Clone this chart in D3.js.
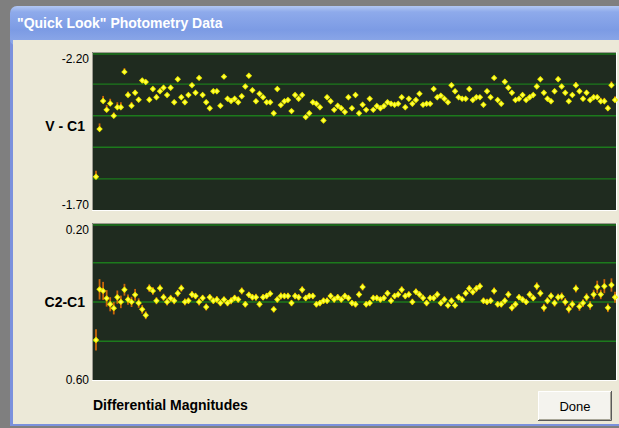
<!DOCTYPE html>
<html>
<head>
<meta charset="utf-8">
<script src="https://cdn.jsdelivr.net/npm/d3@7/dist/d3.min.js"></script>
<style>
  body { margin: 0; background: #7f7f7f; overflow: hidden; }
  text { font-family: "Liberation Sans", Arial, sans-serif; }
</style>
</head>
<body>
<div id="quicklook"></div>
<script>
var vMinusC1 = [
  -1.805, -1.956, -2.045, -2.017, -2.037, -1.998, -2.025, -2.025, -2.137, -2.064,
  -2.030, -2.071, -2.049, -2.110, -2.105, -2.049, -2.083, -2.057, -2.076, -2.087,
  -2.064, -2.087, -2.041, -2.114, -2.057, -2.041, -2.064, -2.095, -2.071, -2.118,
  -2.064, -2.041, -2.022, -2.076, -2.076, -2.030, -2.122, -2.052, -2.045, -2.052,
  -2.041, -2.060, -2.091, -2.125, -2.079, -2.044, -2.068, -2.057, -2.041, -2.041,
  -2.006, -2.083, -2.032, -2.044, -2.048, -2.013, -2.064, -2.052, -2.064, -1.994,
  -2.006, -2.041, -2.036, -2.025, -1.983, -2.057, -2.044, -2.017, -2.030, -2.022,
  -2.010, -2.057, -2.022, -2.064, -2.006, -2.033, -2.017, -2.052, -2.017, -2.029,
  -2.022, -2.029, -2.041, -2.036, -2.033, -2.036, -2.057, -2.025, -2.052, -2.036,
  -2.048, -2.068, -2.033, -2.036, -2.036, -2.083, -2.057, -2.062, -2.052, -2.041,
  -2.095, -2.076, -2.057, -2.052, -2.052, -2.083, -2.048, -2.057, -2.057, -2.033,
  -2.076, -2.057, -2.118, -2.048, -2.036, -2.106, -2.087, -2.071, -2.048, -2.052,
  -2.064, -2.048, -2.057, -2.064, -2.091, -2.114, -2.071, -2.052, -2.044, -2.076,
  -2.114, -2.091, -2.071, -2.044, -2.064, -2.095, -2.076, -2.052, -2.071, -2.048,
  -2.057, -2.057, -2.044, -2.044, -2.022, -2.095, -2.048
];
var vErr = [
  0.019, 0.018, 0.016, 0.015, 0.015, 0.011, 0.016, 0.016, 0.012, 0.011,
  0.012, 0.009, 0.008, 0.007, 0.007, 0.009, 0.007, 0.009, 0.009, 0.008,
  0.006, 0.007, 0.006, 0.006, 0.007, 0.006, 0.006, 0.005, 0.006, 0.006,
  0.006, 0.005, 0.006, 0.006, 0.005, 0.006, 0.006, 0.005, 0.006, 0.005,
  0.006, 0.005, 0.006, 0.005, 0.006, 0.005, 0.005, 0.006, 0.005, 0.005,
  0.005, 0.006, 0.005, 0.005, 0.005, 0.005, 0.006, 0.005, 0.005, 0.005,
  0.005, 0.005, 0.005, 0.005, 0.006, 0.005, 0.005, 0.005, 0.005, 0.005,
  0.005, 0.005, 0.005, 0.005, 0.005, 0.005, 0.005, 0.005, 0.005, 0.005,
  0.005, 0.005, 0.005, 0.005, 0.005, 0.005, 0.005, 0.005, 0.005, 0.005,
  0.005, 0.005, 0.005, 0.005, 0.005, 0.006, 0.005, 0.005, 0.005, 0.005,
  0.006, 0.005, 0.005, 0.005, 0.005, 0.006, 0.005, 0.005, 0.005, 0.005,
  0.006, 0.005, 0.006, 0.005, 0.005, 0.006, 0.006, 0.006, 0.005, 0.006,
  0.006, 0.006, 0.006, 0.006, 0.009, 0.007, 0.006, 0.006, 0.006, 0.007,
  0.008, 0.007, 0.006, 0.006, 0.007, 0.010, 0.007, 0.007, 0.007, 0.007,
  0.008, 0.008, 0.011, 0.011, 0.009, 0.012, 0.012
];
var c2MinusC1 = [
  0.498, 0.369, 0.373, 0.392, 0.407, 0.417, 0.389, 0.401, 0.370, 0.395,
  0.401, 0.383, 0.404, 0.420, 0.435, 0.366, 0.373, 0.398, 0.366, 0.389,
  0.401, 0.392, 0.398, 0.379, 0.366, 0.401, 0.398, 0.382, 0.386, 0.401,
  0.391, 0.414, 0.389, 0.398, 0.395, 0.404, 0.395, 0.404, 0.398, 0.391,
  0.395, 0.373, 0.407, 0.383, 0.389, 0.389, 0.407, 0.389, 0.386, 0.380,
  0.420, 0.395, 0.386, 0.386, 0.386, 0.404, 0.386, 0.389, 0.370, 0.391,
  0.386, 0.386, 0.407, 0.404, 0.398, 0.398, 0.386, 0.395, 0.389, 0.395,
  0.386, 0.391, 0.404, 0.407, 0.382, 0.363, 0.407, 0.404, 0.391, 0.391,
  0.395, 0.391, 0.379, 0.398, 0.386, 0.382, 0.370, 0.386, 0.382, 0.401,
  0.375, 0.382, 0.391, 0.404, 0.391, 0.391, 0.382, 0.404, 0.395, 0.410,
  0.398, 0.410, 0.389, 0.395, 0.379, 0.367, 0.376, 0.367, 0.361, 0.398,
  0.401, 0.398, 0.373, 0.407, 0.407, 0.398, 0.382, 0.416, 0.407, 0.389,
  0.395, 0.401, 0.382, 0.391, 0.361, 0.379, 0.416, 0.398, 0.386, 0.404,
  0.389, 0.387, 0.401, 0.419, 0.407, 0.367, 0.413, 0.404, 0.389, 0.410,
  0.382, 0.363, 0.382, 0.361, 0.416, 0.358, 0.389
];
var cErr = [
  0.027, 0.026, 0.023, 0.021, 0.018, 0.016, 0.017, 0.016, 0.015, 0.013,
  0.013, 0.015, 0.012, 0.011, 0.010, 0.010, 0.010, 0.009, 0.009, 0.009,
  0.009, 0.009, 0.009, 0.009, 0.009, 0.009, 0.008, 0.009, 0.008, 0.009,
  0.008, 0.009, 0.008, 0.008, 0.009, 0.008, 0.008, 0.008, 0.009, 0.008,
  0.008, 0.009, 0.008, 0.008, 0.008, 0.009, 0.008, 0.008, 0.008, 0.008,
  0.008, 0.008, 0.009, 0.008, 0.008, 0.008, 0.008, 0.008, 0.009, 0.008,
  0.008, 0.008, 0.008, 0.008, 0.008, 0.008, 0.008, 0.008, 0.008, 0.008,
  0.008, 0.008, 0.008, 0.008, 0.008, 0.009, 0.008, 0.008, 0.008, 0.008,
  0.008, 0.008, 0.008, 0.008, 0.008, 0.008, 0.009, 0.008, 0.008, 0.008,
  0.008, 0.008, 0.008, 0.008, 0.008, 0.008, 0.008, 0.008, 0.008, 0.008,
  0.008, 0.008, 0.008, 0.008, 0.008, 0.009, 0.008, 0.009, 0.009, 0.008,
  0.008, 0.008, 0.009, 0.008, 0.008, 0.008, 0.009, 0.009, 0.008, 0.008,
  0.008, 0.008, 0.009, 0.008, 0.010, 0.009, 0.010, 0.009, 0.009, 0.009,
  0.009, 0.010, 0.010, 0.011, 0.010, 0.010, 0.011, 0.010, 0.010, 0.011,
  0.012, 0.016, 0.012, 0.018, 0.011, 0.017, 0.014
];
var vTicks = [-2.20, -1.70];
var vGrid = [-2.2, -2.1, -2.0, -1.9, -1.8];
var cTicks = [0.20, 0.60];
var cGrid = [0.2, 0.3, 0.4, 0.5];

var W = 619, H = 428;
var svg = d3.select("#quicklook").append("svg")
    .attr("width", W)
    .attr("height", H);

// window chrome
var grad = svg.append("defs").append("linearGradient")
    .attr("id", "title").attr("x1", 0).attr("y1", 0).attr("x2", 0).attr("y2", 1);
grad.append("stop").attr("offset", 0).attr("stop-color", "#b2c7f3");
grad.append("stop").attr("offset", 0.15).attr("stop-color", "#8eaaeb");
grad.append("stop").attr("offset", 0.6).attr("stop-color", "#7c9be4");
grad.append("stop").attr("offset", 1).attr("stop-color", "#90abe9");

svg.append("rect").attr("width", W).attr("height", H).attr("fill", "#7f7f7f");
svg.append("rect").attr("x", 10).attr("y", 20).attr("width", 640).attr("height", 406)
    .attr("fill", "#7b91dd");
svg.append("rect").attr("x", 10).attr("y", 6).attr("width", 640).attr("height", 40)
    .attr("rx", 7).attr("fill", "url(#title)");
svg.append("text").attr("x", 17).attr("y", 27.5)
    .attr("fill", "#fff").attr("font-size", 14).attr("font-weight", "bold")
    .text("\"Quick Look\" Photometry Data");
svg.append("rect").attr("x", 13).attr("y", 40).attr("width", 620).attr("height", 384)
    .attr("fill", "#ece9d8");

var x = d3.scaleLinear().domain([0, vMinusC1.length - 1]).range([96, 615]);

function diamond(r) {
  return "M0," + (-r) + "L" + r + ",0L0," + r + "L" + (-r) + ",0Z";
}

function panel(opt) {
  var y = d3.scaleLinear().domain(opt.domain).range([opt.top, opt.top + opt.height]);
  var g = svg.append("g");

  g.append("rect")
      .attr("x", 92).attr("y", opt.top).attr("width", 524).attr("height", opt.height)
      .attr("fill", "#1f2b1f");
  // sunken edge
  g.append("path")
      .attr("d", "M92.5," + (opt.top + opt.height) + "V" + (opt.top + 0.5) + "H616")
      .attr("fill", "none").attr("stroke", "#9c9a90");
  g.append("path")
      .attr("d", "M92," + (opt.top + opt.height + 0.5) + "H616.5V" + opt.top)
      .attr("fill", "none").attr("stroke", "#ffffff");

  g.append("g")
      .attr("transform", "translate(93,0)")
      .call(d3.axisLeft(y).tickValues(opt.grid).tickSize(-523).tickFormat(""))
      .call(function(a) {
        a.select(".domain").remove();
        a.selectAll("line").attr("stroke", "#1c7a1c").attr("stroke-width", 1.4)
            .attr("transform", function(d) { return d === opt.domain[0] ? "translate(0,1.5)" : null; });
      });

  var labels = g.append("g")
      .attr("transform", "translate(89,0)")
      .call(d3.axisLeft(y).tickValues(opt.ticks).tickSize(0).tickPadding(0)
        .tickFormat(function(d) { return d.toFixed(2); }));
  labels.select(".domain").remove();
  labels.selectAll("text")
      .attr("font-family", "Liberation Sans, Arial, sans-serif")
      .attr("font-size", 12).attr("fill", "#000")
      .attr("dy", function(d, i) { return (i === 0 ? opt.dyTop : opt.dyBottom) + "em"; });

  g.append("text")
      .attr("x", 85).attr("y", y(opt.mid)).attr("dy", "0.36em")
      .attr("text-anchor", "end").attr("font-size", 14).attr("font-weight", "bold")
      .text(opt.label);

  var pts = g.selectAll(".pt").data(opt.values).enter().append("g")
      .attr("class", "pt")
      .attr("transform", function(d, i) { return "translate(" + x(i) + "," + y(d) + ")"; });

  pts.append("line")
      .attr("x1", 0).attr("x2", 0)
      .attr("y1", function(d, i) { return opt.up ? 0 : y(d + opt.errs[i]) - y(d); })
      .attr("y2", function(d, i) { return y(d - opt.errs[i]) - y(d); })
      .attr("stroke", "#c9650a").attr("stroke-width", 1.8);

  pts.append("path")
      .attr("d", diamond(3.2))
      .attr("fill", "#f2f200");
  pts.append("path")
      .attr("d", diamond(1.7))
      .attr("fill", "#ffff50");
}

panel({
  values: vMinusC1, errs: vErr, up: true,
  domain: [-2.20, -1.70], top: 52, height: 158,
  grid: vGrid, ticks: vTicks, dyTop: 0.85, dyBottom: -0.15,
  label: "V - C1", mid: -1.965
});

panel({
  values: c2MinusC1, errs: cErr, up: false,
  domain: [0.20, 0.60], top: 223, height: 157,
  grid: cGrid, ticks: cTicks, dyTop: 0.85, dyBottom: 0.3,
  label: "C2-C1", mid: 0.40
});

svg.append("text")
    .attr("x", 93).attr("y", 410)
    .attr("font-size", 14).attr("font-weight", "bold")
    .text("Differential Magnitudes");

// Done button
var btn = svg.append("g").attr("transform", "translate(538,391)");
btn.append("rect").attr("width", 74).attr("height", 30).attr("fill", "#f4f3ee");
btn.append("path").attr("d", "M0.5,29.5V0.5H73.5").attr("fill", "none").attr("stroke", "#ffffff");
btn.append("path").attr("d", "M0,29.5H73.5V0").attr("fill", "none").attr("stroke", "#5a5a5a");
btn.append("path").attr("d", "M1,28.5H72.5V1").attr("fill", "none").attr("stroke", "#a8a698");
btn.append("text").attr("x", 37).attr("y", 19.5).attr("text-anchor", "middle")
    .attr("font-size", 13).text("Done");
</script>
</body>
</html>
